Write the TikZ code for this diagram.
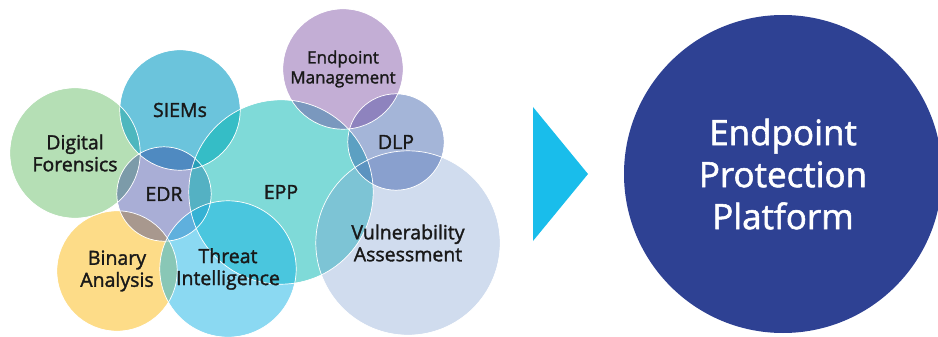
\documentclass[tikz,border=0pt]{standalone}
\usepackage{fontspec}
\setmainfont{Open Sans}[FakeBold=1.6]
\usetikzlibrary{calc}

\definecolor{dfgreen}{RGB}{132,202,132}
\definecolor{siemblue}{RGB}{8,157,197}
\definecolor{edrlav}{RGB}{40,52,152}
\definecolor{eppteal}{RGB}{0,181,177}
\definecolor{empurple}{RGB}{116,67,158}
\definecolor{dlpblue}{RGB}{48,86,166}
\definecolor{vagrey}{RGB}{120,154,206}
\definecolor{bayellow}{RGB}{252,197,57}
\definecolor{tisky}{RGB}{23,179,229}
\definecolor{arrowcyan}{HTML}{19BDEB}
\definecolor{eppnavy}{HTML}{2E4193}

\tikzset{
  bubble/.style={circle, inner sep=0pt, minimum size=#1},
  rim/.style={draw=white, line width=0.7pt},
  tag/.style={align=center, font=\fontsize{19.5}{22}\selectfont, text=black!90},
  smalltag/.style={tag, font=\fontsize{17}{20}\selectfont},
  bigtag/.style={align=center, text=white, font=\fontsize{35}{42}\selectfont}
}

\begin{document}
\begin{tikzpicture}[x=1pt, y=-1pt]
  \useasboundingbox (0,0) rectangle (938,337);
  % bubbles, lowest first
  \node[bubble=130pt, fill=dfgreen, fill opacity=.6] (df) at (75,153) {};
  \node[bubble=120pt, fill=bayellow, fill opacity=.6] (ba) at (117,271) {};
  \node[bubble=120pt, fill=siemblue, fill opacity=.6] (siem) at (180,110) {};
  \node[bubble=94pt, fill=edrlav, fill opacity=.4] (edr) at (164,194) {};
  \node[bubble=184pt, fill=eppteal, fill opacity=.5] (epp) at (281,192) {};
  \node[bubble=136pt, fill=tisky, fill opacity=.5] (ti) at (228,269) {};
  \node[bubble=184pt, fill=vagrey, fill opacity=.35] (va) at (408,243) {};
  \node[bubble=96pt, fill=dlpblue, fill opacity=.44] (dlp) at (396,142) {};
  \node[bubble=120pt, fill=empurple, fill opacity=.43] (em) at (343,69) {};
  \foreach \b in {df,ba,siem,edr,epp,ti,va,dlp,em}
    \draw[rim] let \p1=(\b.east), \p2=(\b.center) in (\p2) circle ({\x1-\x2});
  % labels
  \node[tag] (dftext) at (df.center) {Digital\\Forensics};
  \node[tag] (siemtext) at (siem.center) {SIEMs};
  \node[tag] (edrtext) at (edr.center) {EDR};
  \node[tag] (epptext) at (epp.center) {EPP};
  \node[smalltag] (emtext) at (em.center) {Endpoint\\Management};
  \node[tag] (dlptext) at (dlp.center) {DLP};
  \node[tag] (vatext) at (va.center) {Vulnerability\\Assessment};
  \node[tag] (batext) at (ba.center) {Binary\\Analysis};
  \node[tag] (titext) at (ti.center) {Threat\\Intelligence};
  % arrow and platform
  \coordinate (tipa) at (533,107);
  \coordinate (tipb) at (588,174);
  \coordinate (tipc) at (533,241);
  \fill[arrowcyan] (tipa) -- (tipb) -- (tipc) -- cycle;
  \node[bubble=318pt, fill=eppnavy, bigtag] (platform) at (783,174)
    {Endpoint\\Protection\\Platform};
\end{tikzpicture}
\end{document}
